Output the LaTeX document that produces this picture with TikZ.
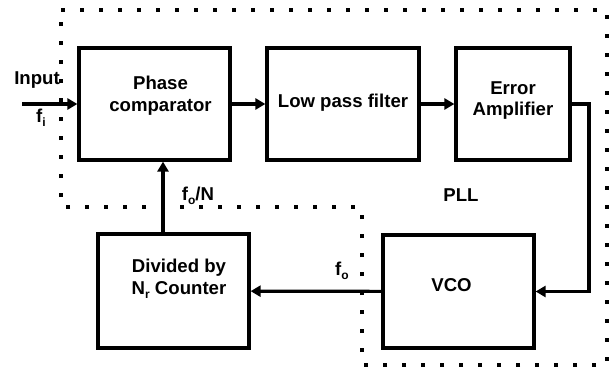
\documentclass[tikz,border=0pt]{standalone}
\usepackage{fontspec}
\setmainfont{Liberation Sans}
\usetikzlibrary{arrows.meta}
\newcommand{\pllsub}[1]{\raisebox{-4.5pt}{\fontsize{12}{12}\selectfont #1}}
\tikzset{
  pllblock/.style={rectangle, draw, line width=3.2pt, minimum width=151pt,
                   minimum height=112pt, inner sep=0pt},
  plltext/.style={align=center, inner sep=0pt,
                  font=\fontsize{18.6}{21.5}\selectfont\bfseries},
  pllwire/.style={draw, line width=3.2pt},
  pllsignal/.style={pllwire, -{Triangle[length=10pt,width=11pt]}},
  pllborder/.style={draw, line width=3.4pt, dash pattern=on 4pt off 15pt},
  pllnote/.style={plltext}
}

\begin{document}
\begin{tikzpicture}[
    x=1pt, y=-1pt
]
  \useasboundingbox (0,0) rectangle (612,367);
  % boundary of the PLL
  \draw[pllborder] (61,10) -- (607,10) -- (607,365) -- (362,365)
    -- (362,207) -- (61,207) -- cycle;
  \node[pllblock, label={[plltext, xshift=6pt, yshift=8.5pt]center:{Phase\\comparator}}]
    (pc) at (154.5,104) {};
  \node[pllblock, minimum width=152pt, label={[plltext, yshift=1.5pt]center:{Low pass filter}}]
    (lpf) at (343,104) {};
  \node[pllblock, minimum width=114pt, label={[plltext, yshift=3.5pt]center:{Error\\Amplifier}}]
    (ea) at (513,104) {};
  \node[pllblock, minimum height=114pt, label={[plltext, xshift=5.5pt, yshift=12pt]center:{Divided by\\N\pllsub{r} Counter}}]
    (div) at (173.5,291) {};
  \node[pllblock, minimum height=113pt, label={[plltext, xshift=-7pt, yshift=6.5pt]center:{VCO}}]
    (vco) at (458.5,291.5) {};
  \coordinate (in) at (22,104);
  \coordinate (bend) at (589,104);
  \draw[pllsignal] (in) -- (pc.west);
  \foreach \a/\b in {pc/lpf, lpf/ea, vco/div} {
    \draw[pllsignal] (\a) -- (\b);
  }
  \draw[pllsignal] (ea.east) -- (bend) |- (vco.east);
  \draw[pllsignal] ([xshift=-10.5pt]div.north) -- ([xshift=-10.5pt]div.north |- pc.south);
  % signal names
  \node[pllnote] (input) at (37,80) {Input};
  \node[pllnote] (fi) at (41,118) {f\pllsub{i}};
  \node[pllnote] (foN) at (198,196) {f\pllsub{o}/N};
  \node[pllnote] (pll) at (461,195) {PLL};
  \node[pllnote] (fo) at (342,271) {f\pllsub{o}};
\end{tikzpicture}
\end{document}
